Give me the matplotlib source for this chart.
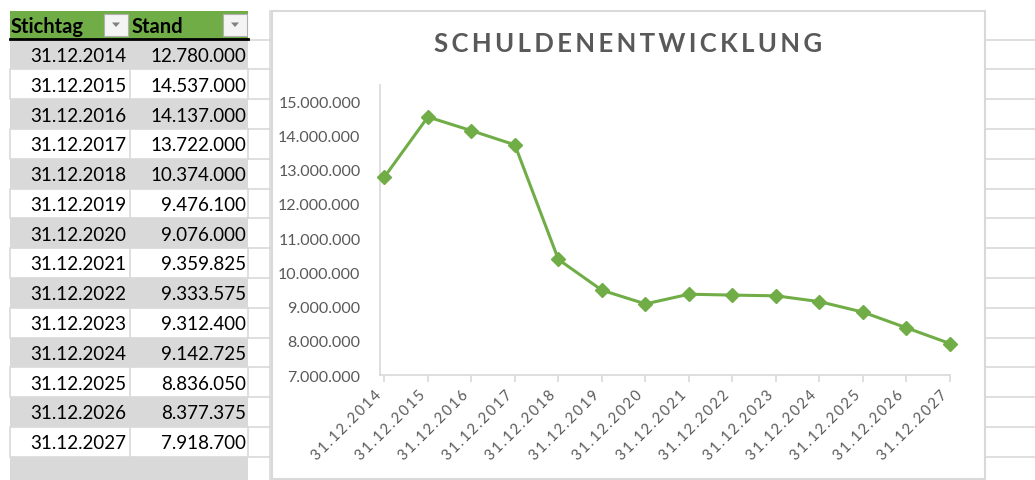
import matplotlib.pyplot as plt
from matplotlib.patches import Rectangle, Polygon
from matplotlib.ticker import FuncFormatter

plt.rcParams['font.family'] = ['Lato', 'DejaVu Sans']

dates = ['31.12.2014', '31.12.2015', '31.12.2016', '31.12.2017', '31.12.2018',
         '31.12.2019', '31.12.2020', '31.12.2021', '31.12.2022', '31.12.2023',
         '31.12.2024', '31.12.2025', '31.12.2026', '31.12.2027']
stand = [12780000, 14537000, 14137000, 13722000, 10374000, 9476100, 9076000,
         9359825, 9333575, 9312400, 9142725, 8836050, 8377375, 7918700]
y_ticks = [7000000, 8000000, 9000000, 10000000, 11000000, 12000000, 13000000,
           14000000, 15000000]
title = 'SCHULDENENTWICKLUNG'

W, H = 1035, 481
GREEN = '#70ad47'
GRID = '#d9d9d9'
TXT = '#595959'
THIN = '\u2009'


def de_num(v):
    return f'{v:,.0f}'.replace(',', '.')


def spaced(s):
    return THIN.join(s)


fig = plt.figure(figsize=(W / 100, H / 100), dpi=100)
bg = fig.add_axes([0, 0, 1, 1])
bg.set_xlim(0, W)
bg.set_ylim(H, 0)
bg.axis('off')

row_top = 40.5
row_h = 29.8

# cell grid to the right of the table and right of the chart
for i in range(15):
    y = row_top + row_h * i
    bg.plot([248, 271], [y, y], color=GRID, lw=1.2)
    bg.plot([985, W], [y, y], color=GRID, lw=1.2)
bg.plot([270, 270], [12, H], color=GRID, lw=1.2)

# table header
bg.add_patch(Rectangle((10, 12), 238, 28, facecolor=GREEN, edgecolor='none'))
bg.plot([10, 248], [40, 40], color='black', lw=2)
bg.text(11, 27, 'Stichtag', fontsize=14.5, fontweight='bold', va='center', ha='left')
bg.text(132, 27, 'Stand', fontsize=14.5, fontweight='bold', va='center', ha='left')
for bx in (104, 223):
    bg.add_patch(Rectangle((bx, 15), 24, 22, facecolor='#f4f4f4', edgecolor='#b0b0b0', lw=0.8))
    bg.add_patch(Polygon([[bx + 8, 23.5], [bx + 16, 23.5], [bx + 12, 28]], closed=True,
                         facecolor='#808080', edgecolor='none'))

# table rows
for i, (d, v) in enumerate(zip(dates, stand)):
    top = row_top + row_h * i
    if i % 2 == 0:
        bg.add_patch(Rectangle((10, top), 238, row_h, facecolor=GRID, edgecolor='none'))
    else:
        bg.add_patch(Rectangle((10, top), 238, row_h, facecolor='white', edgecolor=GRID, lw=1.2))
        bg.plot([130, 130], [top, top + row_h], color=GRID, lw=1.2)
    cy = top + row_h / 2 + 1
    bg.text(126, cy, d, fontsize=13.5, ha='right', va='center')
    bg.text(246, cy, de_num(v), fontsize=13.5, ha='right', va='center')
bg.add_patch(Rectangle((10, row_top + row_h * 14), 238, H, facecolor=GRID, edgecolor='none'))

# chart frame
bg.add_patch(Rectangle((272, 12), 713, 468, facecolor='white', edgecolor=GRID, lw=1.5))
bg.text(628, 44, spaced(title), fontsize=18.5, fontweight='bold', color=TXT,
        ha='center', va='center')

# chart
ax = fig.add_axes([380 / W, 1 - 376 / H, 570 / W, 290 / H])
x = list(range(len(dates)))
ax.plot(x, stand, color=GREEN, lw=2.2, marker='D', markersize=7.5,
        markerfacecolor=GREEN, markeredgecolor=GREEN, clip_on=False, zorder=3)
ax.set_xlim(-0.1, 13)
ax.set_ylim(7000000, 15470000)
ax.set_yticks(y_ticks)
ax.yaxis.set_major_formatter(FuncFormatter(lambda v, p: de_num(v)))
ax.set_xticks(x)
ax.set_xticklabels([spaced(d) for d in dates], rotation=45, ha='right')
ax.tick_params(axis='y', length=0, pad=14, labelsize=11.5, labelcolor=TXT)
ax.tick_params(axis='x', length=5, color=GRID, width=1.2, pad=4,
               labelsize=10.5, labelcolor=TXT)
for s in ('top', 'right'):
    ax.spines[s].set_visible(False)
ax.spines['left'].set_color(GRID)
ax.spines['bottom'].set_color(GRID)
ax.spines['left'].set_linewidth(1.2)
ax.spines['bottom'].set_linewidth(1.2)
ax.patch.set_alpha(0)

fig.savefig('out.png', dpi=100)
